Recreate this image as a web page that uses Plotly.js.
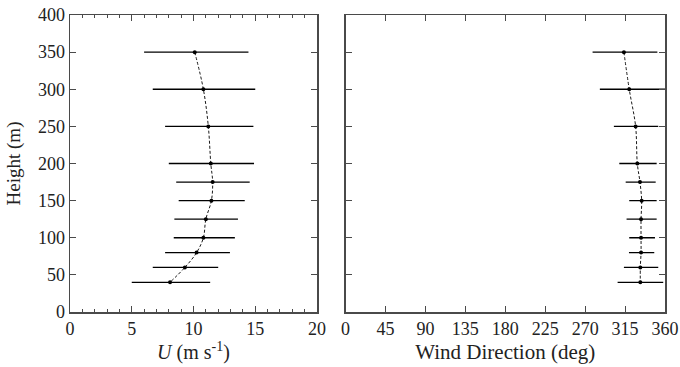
<!DOCTYPE html>
<html>
<head>
<meta charset="utf-8">
<script src="https://cdn.plot.ly/plotly-3.0.1.min.js"></script>
<style>html,body{margin:0;padding:0;background:#fff}#chart{width:680px;height:367px}</style>
</head>
<body>
<div id="chart"></div>
<script>
// Heights (m)
const heights = [350, 300, 250, 200, 175, 150, 125, 100, 80, 60, 40];
// Wind speed U (m/s): mean, lower and upper extents of bars
const uMean = [10.1, 10.8, 11.2, 11.4, 11.55, 11.45, 11.0, 10.8, 10.25, 9.3, 8.1];
const uLow  = [6.0, 6.7, 7.7, 8.0, 8.6, 8.8, 8.45, 8.4, 7.7, 6.7, 5.0];
const uHigh = [14.45, 15.0, 14.85, 14.9, 14.55, 14.15, 13.6, 13.35, 12.95, 12.0, 11.35];
// Wind direction (deg): mean, lower and upper extents of bars
const dirMean = [313.7, 319.7, 326.9, 328.8, 331.8, 333.7, 333.0, 333.0, 333.0, 332.2, 332.2];
const dirLow  = [278.4, 286.6, 302.4, 308.5, 315.7, 319.7, 316.7, 319.7, 319.4, 313.7, 306.6];
const dirHigh = [351.4, 360.0, 352.4, 350.6, 349.5, 350.6, 350.6, 348.7, 347.9, 352.4, 358.0];

const uPlus = uHigh.map((v, i) => v - uMean[i]);
const uMinus = uMean.map((v, i) => v - uLow[i]);
const dPlus = dirHigh.map((v, i) => v - dirMean[i]);
const dMinus = dirMean.map((v, i) => v - dirLow[i]);

const FONT = '"Liberation Serif", "Times New Roman", Times, serif';
const AX = '#4a4a4a';

const traces = [
  {
    x: uMean, y: heights, xaxis: 'x', yaxis: 'y', type: 'scatter', mode: 'lines+markers',
    line: {color: '#000', width: 0.9, dash: '3px,2px', shape: 'spline', smoothing: 1},
    marker: {color: '#000', size: 4},
    error_x: {type: 'data', symmetric: false, array: uPlus, arrayminus: uMinus, color: '#000', thickness: 1.3, width: 0},
    hoverinfo: 'none', showlegend: false
  },
  {
    x: dirMean, y: heights, xaxis: 'x2', yaxis: 'y2', type: 'scatter', mode: 'lines+markers',
    line: {color: '#000', width: 0.9, dash: '3px,2px', shape: 'spline', smoothing: 1},
    marker: {color: '#000', size: 4},
    error_x: {type: 'data', symmetric: false, array: dPlus, arrayminus: dMinus, color: '#000', thickness: 1.3, width: 0},
    hoverinfo: 'none', showlegend: false
  }
];

const baseX = {
  showgrid: false, zeroline: false, showline: true, linecolor: AX, linewidth: 1.5, mirror: 'ticks',
  ticks: 'inside', ticklen: 6, tickwidth: 1, tickcolor: AX,
  tickfont: {family: FONT, size: 18, color: '#222'}, automargin: false
};
const baseY = Object.assign({}, baseX, {range: [0, 400], tickvals: [0, 50, 100, 150, 200, 250, 300, 350, 400]});

const layout = {
  width: 680, height: 367,
  margin: {l: 0, r: 0, t: 15, b: 55},
  paper_bgcolor: '#fff', plot_bgcolor: '#fff',
  font: {family: FONT, color: '#222'},
  xaxis: Object.assign({}, baseX, {
    domain: [70/680, 317/680], anchor: 'y', range: [0, 20],
    tickvals: [0, 5, 10, 15, 20],
    minor: {dtick: 1, ticks: 'inside', ticklen: 3, tickcolor: AX, showgrid: false},
    title: {text: '<i>U</i> (m s<sup>-1</sup>)', font: {family: FONT, size: 20, color: '#222'}, standoff: 6}
  }),
  yaxis: Object.assign({}, baseY, {
    domain: [0, 1], anchor: 'x',
    title: {text: 'Height (m)', font: {family: FONT, size: 19, color: '#222'}, standoff: 12}
  }),
  xaxis2: Object.assign({}, baseX, {
    domain: [345.5/680, 665/680], anchor: 'y2', range: [0, 360],
    tickvals: [0, 45, 90, 135, 180, 225, 270, 315, 360],
    title: {text: 'Wind Direction (deg)', font: {family: FONT, size: 21, color: '#222'}, standoff: 6}
  }),
  yaxis2: Object.assign({}, baseY, {
    domain: [0, 1], anchor: 'x2', showticklabels: false
  })
};

Plotly.newPlot('chart', traces, layout, {displayModeBar: false, staticPlot: true});
</script>
</body>
</html>
